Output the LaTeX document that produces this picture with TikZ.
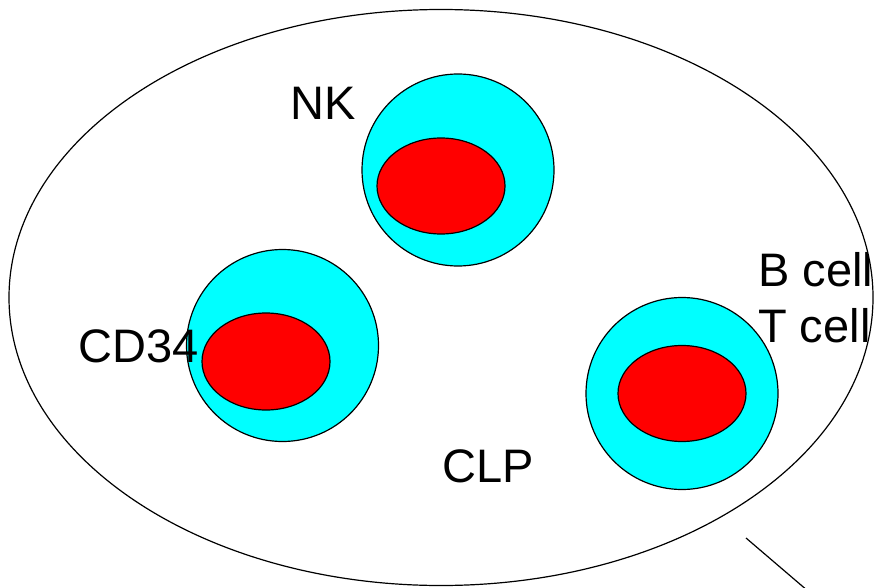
\documentclass[tikz,border=0pt]{standalone}
\usepackage{fontspec}
\setmainfont{Liberation Sans}
\definecolor{cellcyan}{RGB}{0,255,255}
\definecolor{nucred}{RGB}{255,0,0}
\begin{document}
\begin{tikzpicture}[x=1pt,y=-1pt,
  cellbody/.style={draw=black,fill=cellcyan,line width=1.2pt},
  nucleus/.style={draw=black,fill=nucred,line width=1.2pt},
  lbl/.style={anchor=base west,inner sep=0pt,font=\fontsize{47}{57}\selectfont}]
\useasboundingbox (0,0) rectangle (874,588);
\clip (0,0) rectangle (874,588);
\fill[white] (0,0) rectangle (874,588);
% outer ellipse
\draw[line width=1.2pt] (441,297.5) ellipse [x radius=432, y radius=288];
% NK cell
\draw[cellbody] (458,170) circle [radius=96];
\draw[nucleus] (441,186) ellipse [x radius=64, y radius=48];
% CD34 cell
\draw[cellbody] (282.5,345.5) circle [radius=96];
\draw[nucleus] (266,361.5) ellipse [x radius=64, y radius=48.5];
% right cell
\draw[cellbody] (682,393.5) circle [radius=96];
\draw[nucleus] (682,393.5) ellipse [x radius=64, y radius=48];
% labels (clipped by the outer ellipse)
\begin{scope}
\clip (441,297.5) ellipse [x radius=431.4, y radius=287.4];
\node[lbl] (nk) at (290,120) {NK};
\node[lbl] (cd) at (78,362) {CD34};
\node[lbl] (clp) at (442,482) {CLP};
\node[lbl] (bc) at (758,286) {B cell};
\node[lbl] (tc) at (758,342) {T cell};
\end{scope}
% pointer line
\coordinate (p1) at (746,538);
\coordinate (p2) at (822,603);
\draw[line width=1.2pt] (p1) -- (p2);
\end{tikzpicture}
\end{document}
